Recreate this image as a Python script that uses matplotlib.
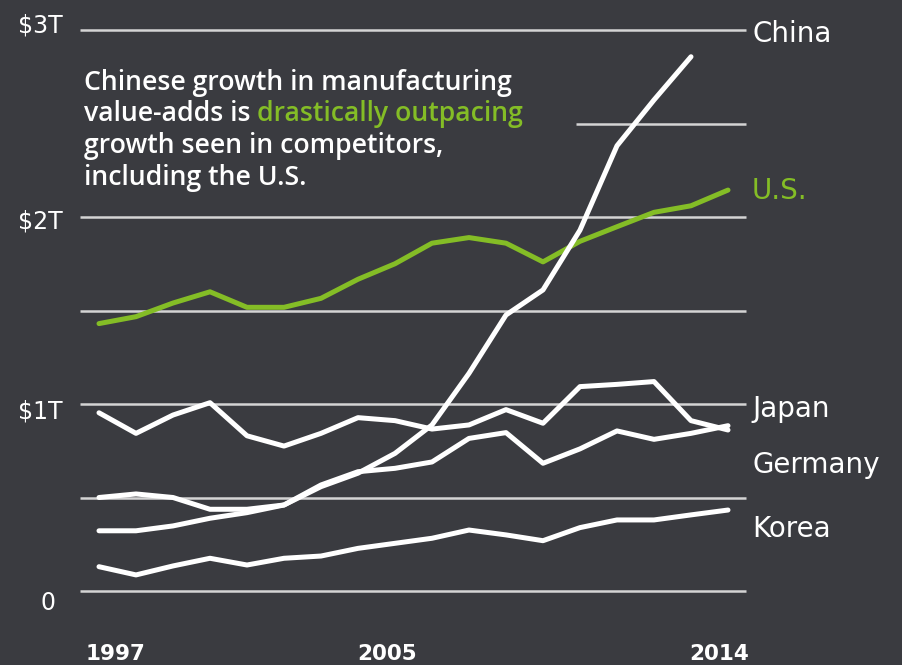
import matplotlib
matplotlib.use("Agg")
import matplotlib.pyplot as plt
import numpy as np

# Manufacturing value added, trillions of US dollars
years = np.arange(1997, 2015)
china = [0.322, 0.322, 0.348, 0.389, 0.419, 0.460, 0.558, 0.630, 0.736, 0.888,
         1.164, 1.476, 1.610, 1.930, 2.381, 2.626, 2.857]          # through 2013
us = [1.430, 1.467, 1.540, 1.600, 1.517, 1.517, 1.565, 1.667, 1.750, 1.860,
      1.890, 1.860, 1.760, 1.870, 1.948, 2.025, 2.060, 2.144]
japan = [0.953, 0.843, 0.941, 1.007, 0.830, 0.775, 0.843, 0.927, 0.911, 0.866,
         0.888, 0.970, 0.897, 1.093, 1.105, 1.120, 0.911, 0.861]
germany = [0.500, 0.519, 0.500, 0.437, 0.437, 0.460, 0.567, 0.638, 0.656, 0.690,
           0.816, 0.847, 0.683, 0.760, 0.856, 0.811, 0.843, 0.884]
korea = [0.130, 0.086, 0.134, 0.175, 0.139, 0.175, 0.187, 0.228, 0.255, 0.282,
         0.326, 0.300, 0.269, 0.339, 0.380, 0.380, 0.407, 0.433]

grid_values = [0, 0.5, 1, 1.5, 2, 3]
partial_grid_value = 2.5
y_tick_values = [3, 2, 1, 0]
y_tick_labels = ["$3T", "$2T", "$1T", "0"]
x_tick_labels = ["1997", "2005", "2014"]
series_labels = ["China", "U.S.", "Japan", "Germany", "Korea"]

BG = "#3a3b40"
GREEN = "#84bd26"
WHITE = "#ffffff"
GRID = "#d4d4d4"

W, H = 902, 665
fig = plt.figure(figsize=(W / 100, H / 100), dpi=100, facecolor=BG)
ax = fig.add_axes([0, 0, 1, 1])
ax.set_facecolor(BG)
ax.axis("off")

# Scale: one year = 37 px, one trillion = 187 px; 1997 sits at x=99, zero at y=591
px_per_year, px_per_t = 37.0, 187.0
x0_px, y0_px = 99.0, 591.0
ax.set_xlim(1997 - x0_px / px_per_year, 1997 + (W - x0_px) / px_per_year)
ax.set_ylim((y0_px - H) / px_per_t, y0_px / px_per_t)


def fx(px):
    return px / W


def fy(py):
    return 1 - py / H


# Horizontal gridlines
gx_left = 1997 - (x0_px - 80) / px_per_year
gx_right = 1997 + (746 - x0_px) / px_per_year
ax.hlines(grid_values, gx_left, gx_right, color=GRID, lw=1.8, zorder=1)
ax.hlines(partial_grid_value, 1997 + (576 - x0_px) / px_per_year, gx_right,
          color=GRID, lw=1.8, zorder=1)

# Series
line_kw = dict(lw=3.6, solid_capstyle="round", solid_joinstyle="round", zorder=3)
ax.plot(years, us, color=GREEN, **line_kw)
ax.plot(years, korea, color=WHITE, **line_kw)
ax.plot(years, germany, color=WHITE, **line_kw)
ax.plot(years, japan, color=WHITE, **line_kw)
ax.plot(years[:len(china)], china, color=WHITE, **line_kw)

# Y axis labels
ytick_font = dict(family="DejaVu Sans", fontsize=17, color=WHITE)
ytick_baselines = [32, 229, 418, 610]
ytick_right = [63, 63, 63, 55]
for lab, by, rx in zip(y_tick_labels, ytick_baselines, ytick_right):
    ax.text(fx(rx), fy(by), lab, transform=ax.transAxes, ha="right",
            va="baseline", **ytick_font)

# X axis labels
xtick_centers = [115, 387, 719]
for lab, cx in zip(x_tick_labels, xtick_centers):
    ax.text(fx(cx), fy(660), lab, transform=ax.transAxes, ha="center",
            va="baseline", family="DejaVu Sans", fontweight="bold",
            fontsize=15.5, color=WHITE)

# Series labels on the right
label_baselines = [42, 199, 417, 473, 537]
label_colors = [WHITE, GREEN, WHITE, WHITE, WHITE]
for lab, by, col in zip(series_labels, label_baselines, label_colors):
    ax.text(fx(752), fy(by), lab, transform=ax.transAxes, ha="left",
            va="baseline", family="DejaVu Sans", fontsize=20, color=col)

# Callout text with a highlighted phrase
note_font = dict(family="Open Sans", fontweight="semibold", fontsize=19.2)
ax.text(fx(84), fy(90), "Chinese growth in manufacturing",
        transform=ax.transAxes, va="baseline", color=WHITE, **note_font)
t2 = ax.text(fx(84), fy(121), "value-adds is ", transform=ax.transAxes,
             va="baseline", color=WHITE, **note_font)
ax.annotate("drastically outpacing", xy=(1, 0), xycoords=t2,
            va="bottom", ha="left", color=GREEN, **note_font)
ax.text(fx(84), fy(153), "growth seen in competitors,",
        transform=ax.transAxes, va="baseline", color=WHITE, **note_font)
ax.text(fx(84), fy(185), "including the U.S.",
        transform=ax.transAxes, va="baseline", color=WHITE, **note_font)

fig.savefig("out.png", dpi=100, facecolor=BG)
